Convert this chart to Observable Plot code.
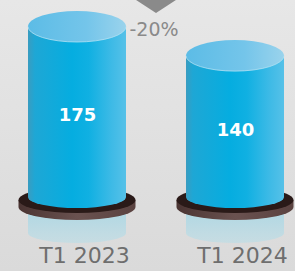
<!DOCTYPE html>
<html><head><meta charset="utf-8">
<script src="https://cdn.jsdelivr.net/npm/d3@7"></script>
<script src="https://cdn.jsdelivr.net/npm/@observablehq/plot@0.6"></script>
<style>
html,body{margin:0;padding:0;background:#e2e2e2;overflow:hidden;}
#chart svg{display:block;}
</style></head><body><div id="chart"></div>
<script>
const categories = ["T1 2023", "T1 2024"];
const values = [175, 140];
const changeLabel = "-20%";
const yMin = -30;
const data = categories.map((cat, i) => ({cat, value: values[i]}));

function cylinders(index, scales) {
  const {x, y} = scales;
  const bw = x.bandwidth();
  const yb = y(yMin);
  const g = d3.create("svg:g");
  const defs = g.append("defs");
  const lin = (id, stops, vertical) => {
    const lg = defs.append("linearGradient").attr("id", id)
      .attr("x1", 0).attr("y1", 0).attr("x2", vertical ? 0 : 1).attr("y2", vertical ? 1 : 0);
    stops.forEach(([o, c, a]) => lg.append("stop").attr("offset", o).attr("stop-color", c).attr("stop-opacity", a ?? 1));
  };
  lin("bodyG", [[0, "#3a9cc0"], [0.07, "#1ea7d5"], [0.45, "#05ade0"], [0.62, "#10b0e2"], [0.85, "#3dbae6"], [1, "#56c1e8"]]);
  lin("topG", [[0, "#5cbce6"], [0.6, "#74c5ea"], [1, "#9ad3ec"]]);
  lin("discG", [[0, "#4a3432"], [0.5, "#6a5250"], [1, "#5a4240"]]);
  lin("reflG", [[0, "#9fd3e3", 0.95], [1, "#b9dde7", 0.6]], true);

  // arrow head between the two bars
  const mid = (x(categories[0]) + x(categories[1]) + bw) / 2;
  g.append("path").attr("d", `M${mid - 23},-2L${mid + 23},-2L${mid},13Z`).attr("fill", "#8a8a8a");

  data.forEach(d => {
    const cx = x(d.cat) + bw / 2, rx = bw / 2, yt = y(d.value);
    const Rx = rx + 9.5, Ry = 13, yd = yb + 3;
    g.append("path")
      .attr("d", `M${cx - rx},${yb}L${cx - rx},${yb + 36}A${rx},10 0 0 0 ${cx + rx},${yb + 36}L${cx + rx},${yb}Z`)
      .attr("fill", "url(#reflG)");
    g.append("path")
      .attr("d", `M${cx - Rx},${yd}L${cx - Rx},${yd + 7}A${Rx},${Ry} 0 0 0 ${cx + Rx},${yd + 7}L${cx + Rx},${yd}Z`)
      .attr("fill", "url(#discG)");
    g.append("ellipse").attr("cx", cx).attr("cy", yd).attr("rx", Rx).attr("ry", Ry).attr("fill", "#2a1a18");
    g.append("path")
      .attr("d", `M${cx - rx},${yt}L${cx - rx},${yb}A${rx},11 0 0 0 ${cx + rx},${yb}L${cx + rx},${yt}Z`)
      .attr("fill", "url(#bodyG)");
    g.append("ellipse").attr("cx", cx).attr("cy", yt).attr("rx", rx).attr("ry", 15.5)
      .attr("fill", "url(#topG)");
    g.append("path")
      .attr("d", `M${cx - rx},${yt}A${rx},15.5 0 0 0 ${cx + rx},${yt}`)
      .attr("fill", "none").attr("stroke", "#b3e1f3").attr("stroke-width", 0.8);
  });
  return g.node();
}

const chart = Plot.plot({
  width: 295,
  height: 271,
  margin: 0,
  style: {background: "linear-gradient(#e7e7e7, #dadada)", fontFamily: "DejaVu Sans"},
  x: {type: "band", domain: categories, range: [27, 284], paddingInner: 0.38, paddingOuter: 0, axis: null},
  y: {domain: [yMin, 175], range: [197, 26.5], axis: null},
  marks: [
    cylinders,
    Plot.text(data, {x: "cat", y: d => (d.value + yMin) / 2, text: d => String(d.value), fill: "white", fontSize: 18, fontWeight: "bold", dy: 3}),
    Plot.text(data, {x: "cat", text: "cat", frameAnchor: "bottom", fill: "#6e6e6e", fontSize: 22, dx: 7, dy: -9}),
    Plot.text([changeLabel], {text: d => d, frameAnchor: "top", fill: "#8a8a8a", fontSize: 19, dx: 6, dy: 22})
  ]
});
document.getElementById("chart").append(chart);
</script>
</body></html>
